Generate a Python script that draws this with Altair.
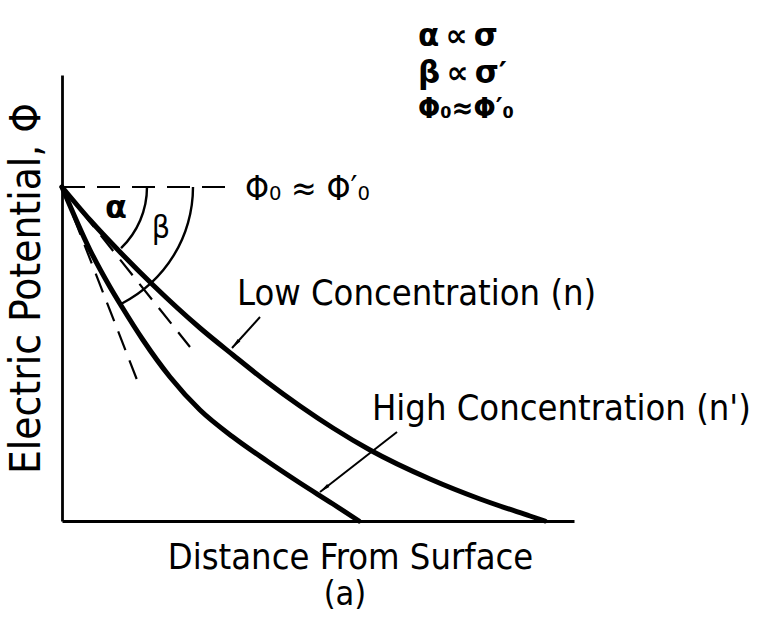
import math

import altair as alt
import pandas as pd

# Potential profiles away from the surface: distance, potential (same units)
low_dist = [0, 28, 58, 91, 138, 171, 205, 238, 271, 308, 368, 418, 468, 483]
low_phi = [334, 301, 269, 236, 193, 166, 139, 115, 93, 71, 42, 22, 5, 0]
high_dist = [0, 28, 48, 60, 81, 108, 138, 171, 205, 238, 271, 297]
high_phi = [334, 271, 234, 214, 181, 144, 111, 84, 60, 38, 17, 0]

# Surface potential (shared by both profiles) and end of its reference line
surface_phi = 334
reference_end = 173

# Initial tangents of the two profiles (end points)
tangent_names = ["low", "high"]
tangent_end_dist = [128, 77]
tangent_end_phi = [174, 136]

# Angles alpha / beta below the horizontal (degrees) and their arc radii
angle_names = ["α", "β"]
angle_deg = [46, 63]
arc_radius = [85, 131]

# Pointers from the curve labels to the curves (tail -> head)
pointer_tail_dist = [198, 335]
pointer_tail_phi = [204, 89]
pointer_head_dist = [170, 258]
pointer_head_phi = [173, 29]

LABEL_FONT = "DejaVu Sans Condensed, DejaVu Sans, sans-serif"

X_SCALE = alt.Scale(domain=[0, 512], nice=False, zero=False)
Y_SCALE = alt.Scale(domain=[0, 446], nice=False, zero=False)
X_AXIS = alt.Axis(
    title="Distance From Surface", domain=True, domainColor="black", domainWidth=2.8,
    ticks=False, labels=False, grid=False, titleFont=LABEL_FONT, titleFontSize=36,
    titleFontWeight="normal", titleColor="black", titleX=288, titleY=47,
    titleAlign="center", titleBaseline="alphabetic",
)
Y_AXIS = alt.Axis(
    title="Electric Potential, Φ", domain=True, domainColor="black", domainWidth=2.8,
    ticks=False, labels=False, grid=False, titleFont=LABEL_FONT, titleFontSize=42,
    titleFontWeight="normal", titleColor="black", titleAngle=270, titleX=-36, titleY=213,
    titleAlign="center", titleBaseline="middle",
)


def xq(field="x"):
    return alt.X(f"{field}:Q", scale=X_SCALE, axis=X_AXIS)


def yq(field="y"):
    return alt.Y(f"{field}:Q", scale=Y_SCALE, axis=Y_AXIS)


curves = pd.concat([
    pd.DataFrame({"x": low_dist, "y": low_phi, "curve": "low"}),
    pd.DataFrame({"x": high_dist, "y": high_phi, "curve": "high"}),
])

profile_lines = alt.Chart(curves).mark_line(
    color="black", strokeWidth=5, interpolate="monotone", strokeCap="round"
).encode(x=xq(), y=yq(), detail="curve:N")

reference = pd.DataFrame({"x": [0], "y": [surface_phi], "x2": [reference_end], "y2": [surface_phi]})
reference_line = alt.Chart(reference).mark_rule(
    color="black", strokeWidth=2, strokeDash=[23, 12]
).encode(x=xq(), y=yq(), x2="x2:Q", y2="y2:Q")

tangents = pd.DataFrame({
    "name": tangent_names,
    "x": [0, 0], "y": [surface_phi, surface_phi],
    "x2": tangent_end_dist, "y2": tangent_end_phi,
})
tangent_lines = alt.Chart(tangents).mark_rule(
    color="black", strokeWidth=2.2, strokeDash=[20, 11]
).encode(x=xq(), y=yq(), x2="x2:Q", y2="y2:Q")

arcs = pd.DataFrame({
    "name": angle_names,
    "x": [0, 0], "y": [surface_phi, surface_phi],
    "t0": [math.pi / 2] * 2,
    "t1": [math.pi / 2 + math.radians(a) for a in angle_deg],
    "r_out": [r + 1.2 for r in arc_radius],
    "r_in": [r - 1.2 for r in arc_radius],
})
angle_arcs = alt.Chart(arcs).mark_arc(color="black").encode(
    x=xq(), y=yq(),
    theta=alt.Theta("t0:Q", scale=None), theta2="t1:Q",
    radius=alt.Radius("r_out:Q", scale=None), radius2="r_in:Q",
)

pointers = pd.DataFrame({
    "x": pointer_tail_dist, "y": pointer_tail_phi,
    "x2": pointer_head_dist, "y2": pointer_head_phi,
})
pointers["ang"] = [
    math.degrees(math.atan2(hx - tx, hy - ty)) % 360
    for tx, ty, hx, hy in zip(pointer_tail_dist, pointer_tail_phi, pointer_head_dist, pointer_head_phi)
]
pointer_lines = alt.Chart(pointers).mark_rule(color="black", strokeWidth=2).encode(
    x=xq(), y=yq(), x2="x2:Q", y2="y2:Q"
)
pointer_heads = alt.Chart(pointers).mark_point(
    shape="M0,0L0.35,2L-0.35,2Z", filled=True, color="black", size=110, opacity=1
).encode(x=xq("x2"), y=yq("y2"), angle=alt.Angle("ang:Q", scale=None))

# Text on the drawing
curve_labels = pd.DataFrame({
    "x": [175, 310], "y": [216, 101],
    "text": ["Low Concentration (n)", "High Concentration (n')"],
})
curve_text = alt.Chart(curve_labels).mark_text(
    align="left", baseline="alphabetic", font=LABEL_FONT, fontSize=36, color="black"
).encode(x=xq(), y=yq(), text="text:N")

phi_label = pd.DataFrame({"x": [183], "y": [surface_phi - 13], "text": ["Φ₀ ≈ Φ′₀"]})
phi_text = alt.Chart(phi_label).mark_text(
    align="left", baseline="alphabetic", font=LABEL_FONT, fontSize=34, color="black"
).encode(x=xq(), y=yq(), text="text:N")

panel = pd.DataFrame({"x": [283], "y": [-84], "text": ["(a)"]})
panel_text = alt.Chart(panel).mark_text(
    align="center", baseline="alphabetic", font=LABEL_FONT, fontSize=34, color="black"
).encode(x=xq(), y=yq(), text="text:N")

relations = pd.DataFrame({
    "x": [356, 356], "y": [475, 438],
    "text": ["α\u2009∝\u2009σ", "β\u2009∝\u2009σ′"],
})
relation_text = alt.Chart(relations).mark_text(
    align="left", baseline="alphabetic", font="DejaVu Sans", fontWeight="bold",
    fontSize=31, color="black"
).encode(x=xq(), y=yq(), text="text:N")

relation_phi = pd.DataFrame({"x": [356], "y": [403], "text": ["Φ₀≈Φ′₀"]})
relation_phi_text = alt.Chart(relation_phi).mark_text(
    align="left", baseline="alphabetic", font="DejaVu Sans Condensed", fontWeight="bold",
    fontSize=29, color="black"
).encode(x=xq(), y=yq(), text="text:N")

angle_labels = pd.DataFrame({"x": [54, 99], "y": [313, 293], "text": angle_names})
alpha_text = alt.Chart(angle_labels.iloc[[0]]).mark_text(
    align="center", baseline="middle", font="DejaVu Sans", fontWeight="bold",
    fontSize=32, color="black"
).encode(x=xq(), y=yq(), text="text:N")
beta_text = alt.Chart(angle_labels.iloc[[1]]).mark_text(
    align="center", baseline="middle", font=LABEL_FONT, fontSize=32, color="black"
).encode(x=xq(), y=yq(), text="text:N")

chart = alt.layer(
    reference_line, tangent_lines, angle_arcs, profile_lines, pointer_lines,
    pointer_heads, curve_text, phi_text, panel_text, relation_text, relation_phi_text,
    alpha_text, beta_text,
).properties(
    width=512, height=446,
    autosize=alt.AutoSizeParams(type="none"),
    padding={"left": 62, "top": 75, "right": 202, "bottom": 100},
    background="white",
).configure_view(stroke=None)

chart.save("out.html", embed_options={"renderer": "svg", "actions": False})
